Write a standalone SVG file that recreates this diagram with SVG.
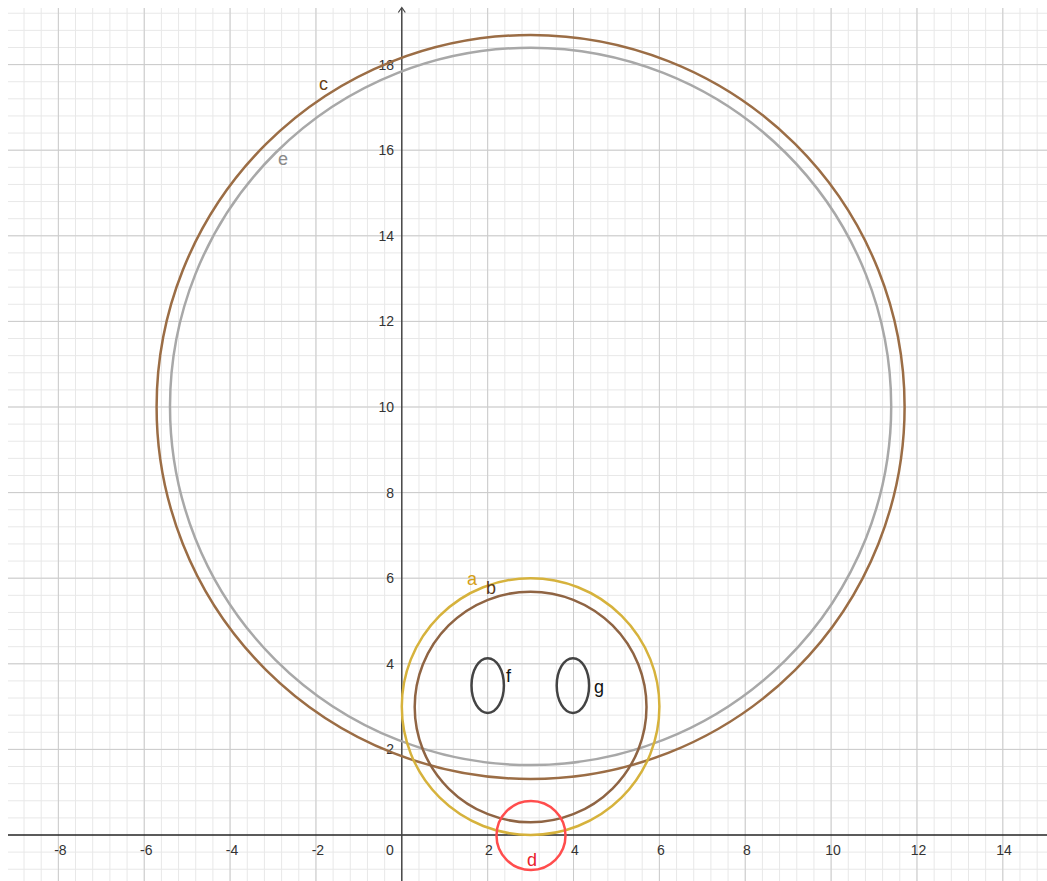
<svg xmlns="http://www.w3.org/2000/svg" width="1047" height="881" viewBox="0 0 1047 881">
<style>
.minor{stroke:#e8e8e8;stroke-width:1;fill:none}
.major{stroke:#cbcbcb;stroke-width:1;fill:none}
.axis{stroke:#252525;stroke-width:1.5;fill:none}
.tick{font-family:"Liberation Sans",Arial,sans-serif;font-size:14px;fill:#333}
.tx{text-anchor:middle}
.ty{text-anchor:end}
.curve{fill:none;stroke-width:2.5}
.lbl{font-family:"Liberation Sans",Arial,sans-serif;font-size:18px}
</style>
<rect width="1047" height="881" fill="#ffffff"/>
<g id="grid">
<path class="minor" d="M24.02 8V881M41.19 8V881M58.36 8V881M75.53 8V881M92.70 8V881M109.88 8V881M127.05 8V881M144.22 8V881M161.39 8V881M178.56 8V881M195.74 8V881M212.91 8V881M230.08 8V881M247.25 8V881M264.42 8V881M281.60 8V881M298.77 8V881M315.94 8V881M333.11 8V881M350.28 8V881M367.46 8V881M384.63 8V881M418.97 8V881M436.14 8V881M453.32 8V881M470.49 8V881M487.66 8V881M504.83 8V881M522.00 8V881M539.18 8V881M556.35 8V881M573.52 8V881M590.69 8V881M607.86 8V881M625.04 8V881M642.21 8V881M659.38 8V881M676.55 8V881M693.72 8V881M710.90 8V881M728.07 8V881M745.24 8V881M762.41 8V881M779.58 8V881M796.76 8V881M813.93 8V881M831.10 8V881M848.27 8V881M865.44 8V881M882.62 8V881M899.79 8V881M916.96 8V881M934.13 8V881M951.30 8V881M968.48 8V881M985.65 8V881M1002.82 8V881M1019.99 8V881M1037.16 8V881
M8 869.24H1047M8 852.12H1047M8 817.88H1047M8 800.76H1047M8 783.64H1047M8 766.52H1047M8 749.40H1047M8 732.28H1047M8 715.16H1047M8 698.04H1047M8 680.92H1047M8 663.80H1047M8 646.68H1047M8 629.56H1047M8 612.44H1047M8 595.32H1047M8 578.20H1047M8 561.08H1047M8 543.96H1047M8 526.84H1047M8 509.72H1047M8 492.60H1047M8 475.48H1047M8 458.36H1047M8 441.24H1047M8 424.12H1047M8 407.00H1047M8 389.88H1047M8 372.76H1047M8 355.64H1047M8 338.52H1047M8 321.40H1047M8 304.28H1047M8 287.16H1047M8 270.04H1047M8 252.92H1047M8 235.80H1047M8 218.68H1047M8 201.56H1047M8 184.44H1047M8 167.32H1047M8 150.20H1047M8 133.08H1047M8 115.96H1047M8 98.84H1047M8 81.72H1047M8 64.60H1047M8 47.48H1047M8 30.36H1047M8 13.24H1047"/>
<path class="major" d="M58.36 8V881M144.22 8V881M230.08 8V881M315.94 8V881M487.66 8V881M573.52 8V881M659.38 8V881M745.24 8V881M831.10 8V881M916.96 8V881M1002.82 8V881M8 749.40H1047M8 663.80H1047M8 578.20H1047M8 492.60H1047M8 407.00H1047M8 321.40H1047M8 235.80H1047M8 150.20H1047M8 64.60H1047"/>
</g>
<g id="axes">
<path class="axis" d="M8 835H1047"/>
<path class="axis" d="M401.8 8V881" style="stroke:#444"/>
<path class="axis" d="M398.3 12.5L401.8 7.5L405.3 12.5" style="stroke:#444;stroke-width:1.2"/>
<g class="tick tx">
<text x="60.4" y="855">-8</text>
<text x="146.2" y="855">-6</text>
<text x="232.1" y="855">-4</text>
<text x="317.9" y="855">-2</text>
<text x="390" y="855">0</text>
<text x="489" y="855">2</text>
<text x="575" y="855">4</text>
<text x="661" y="855">6</text>
<text x="747" y="855">8</text>
<text x="833" y="855">10</text>
<text x="918.5" y="855">12</text>
<text x="1004" y="855">14</text>
</g>
<g class="tick ty">
<text x="394" y="754.4">2</text>
<text x="394" y="668.8">4</text>
<text x="394" y="583.2">6</text>
<text x="394" y="497.6">8</text>
<text x="394" y="412">10</text>
<text x="394" y="326.4">12</text>
<text x="394" y="240.8">14</text>
<text x="394" y="155.2">16</text>
<text x="394" y="69.6">18</text>
</g>
</g>
<g id="c">
<ellipse class="curve" cx="530.6" cy="407" rx="374" ry="372" stroke="#9b6d45"/>
<text class="lbl" x="319" y="90" fill="#6b3f14">c</text>
</g>
<g id="e">
<ellipse class="curve" cx="530.6" cy="406.4" rx="360.6" ry="358.7" stroke="#a8a8a8"/>
<text class="lbl" x="278" y="165" fill="#8a8a8a">e</text>
</g>
<g id="a">
<ellipse class="curve" cx="530.6" cy="706.6" rx="128.8" ry="128.4" stroke="#d6b23c"/>
<text class="lbl" x="467" y="585" fill="#d4a017">a</text>
</g>
<g id="b">
<ellipse class="curve" cx="530.6" cy="707" rx="115.9" ry="115.3" stroke="#8f6443"/>
<text class="lbl" x="486" y="594" fill="#5a3a1a">b</text>
</g>
<g id="d">
<circle class="curve" cx="531" cy="835.5" r="34.5" stroke="#ff4d4d"/>
<text class="lbl" x="527" y="866" fill="#e8202a">d</text>
</g>
<g id="f">
<ellipse class="curve" cx="487.7" cy="685.6" rx="16.2" ry="27.4" stroke="#444"/>
<text class="lbl" x="506" y="682" fill="#111">f</text>
</g>
<g id="g">
<ellipse class="curve" cx="572.9" cy="685.6" rx="16.2" ry="27.4" stroke="#444"/>
<text class="lbl" x="594" y="693" fill="#111">g</text>
</g>
<g id="connectors"></g>
</svg>
